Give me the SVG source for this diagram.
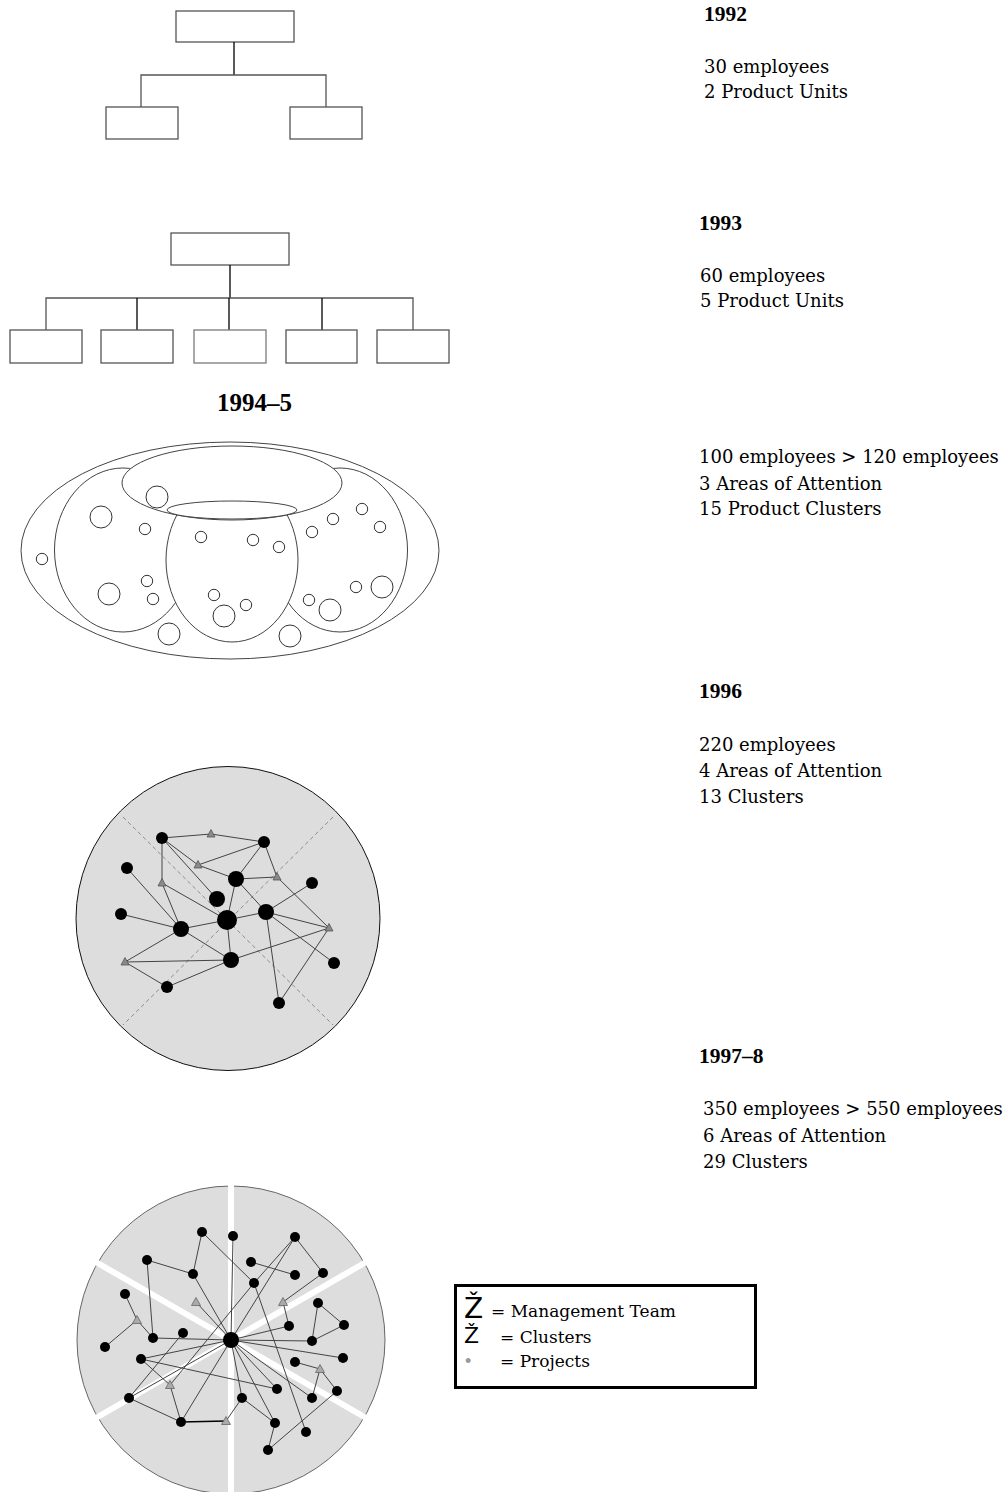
<svg xmlns="http://www.w3.org/2000/svg" xmlns:xlink="http://www.w3.org/1999/xlink" width="1006" height="1492" viewBox="0 0 1006 1492">
<style>
.box{fill:#fff;stroke:#555;stroke-width:1.3}
.org{stroke:#555;stroke-width:1.3;fill:none}
.orgk{stroke:#000;stroke-width:1.3;fill:none}
.el{fill:#fff;stroke:#444;stroke-width:1}
.sc{fill:none;stroke:#333;stroke-width:1}
.yr{font-family:"Liberation Serif",serif;font-weight:bold;font-size:21.5px;fill:#000}
.tx{font-family:"DejaVu Serif",serif;font-size:18px;fill:#000}
.lg{font-family:"DejaVu Serif",serif;font-size:17px;fill:#000}
.zz{font-family:"DejaVu Sans",sans-serif;fill:#000}
.ed{stroke:#444;stroke-width:1;fill:none}
.n{fill:#000}
.tri{fill:#8a8a8a;stroke:#555;stroke-width:0.8}
.tri2{fill:#aaa;stroke:#666;stroke-width:0.8}
</style>
<defs>
<path id="t96" d="M-4,3 L4,3 L0,-4.5Z"/>
<path id="t97" d="M-4.5,3.5 L4.5,3.5 L0,-4.5Z"/>
</defs>

<g id="chart1992">
<rect class="box" x="176" y="11" width="118" height="31"/>
<line class="orgk" x1="234" y1="42" x2="234" y2="75"/>
<path class="org" d="M141,108 V75 H326 V108"/>
<rect class="box" x="106" y="107" width="72" height="32"/>
<rect class="box" x="290" y="107" width="72" height="32"/>
</g>

<g id="chart1993">
<rect class="box" x="171" y="233" width="118" height="32"/>
<line class="orgk" x1="230" y1="265" x2="230" y2="298"/>
<path class="org" d="M46,330 V298 H413 V330"/>
<line class="orgk" x1="137" y1="298" x2="137" y2="330"/>
<line class="orgk" x1="229" y1="298" x2="229" y2="330"/>
<line class="orgk" x1="322" y1="298" x2="322" y2="330"/>
<rect class="box" x="10" y="330" width="72" height="33"/>
<rect class="box" x="101" y="330" width="72" height="33"/>
<rect class="box" x="194" y="330" width="72" height="33" style="stroke:#7a7a7a"/>
<rect class="box" x="286" y="330" width="71" height="33"/>
<rect class="box" x="377" y="330" width="72" height="33"/>
</g>

<text class="yr" x="217" y="411" style="font-size:25px">1994–5</text>

<g id="clusters1994">
<ellipse class="el" cx="230" cy="550.5" rx="209" ry="108.5"/>
<ellipse class="el" cx="123" cy="550" rx="68.5" ry="82"/>
<ellipse class="el" cx="340" cy="550" rx="67.5" ry="82"/>
<ellipse class="el" cx="232" cy="560" rx="66" ry="82"/>
<ellipse class="el" cx="232" cy="483" rx="110" ry="37"/>
<ellipse class="el" cx="232" cy="510" rx="65" ry="9"/>
<g>
<circle class="sc" cx="157" cy="497" r="11"/>
<circle class="sc" cx="101" cy="517" r="11"/>
<circle class="sc" cx="145" cy="529" r="5.7"/>
<circle class="sc" cx="42" cy="559" r="5.7"/>
<circle class="sc" cx="201" cy="537" r="5.7"/>
<circle class="sc" cx="253" cy="540" r="5.7"/>
<circle class="sc" cx="279" cy="547" r="5.7"/>
<circle class="sc" cx="312" cy="532" r="5.7"/>
<circle class="sc" cx="333" cy="519" r="5.7"/>
<circle class="sc" cx="362" cy="509" r="5.7"/>
<circle class="sc" cx="380" cy="527" r="5.7"/>
<circle class="sc" cx="147" cy="581" r="5.7"/>
<circle class="sc" cx="153" cy="599" r="5.7"/>
<circle class="sc" cx="109" cy="594" r="11"/>
<circle class="sc" cx="214" cy="595" r="5.7"/>
<circle class="sc" cx="246" cy="605" r="5.7"/>
<circle class="sc" cx="224" cy="616" r="11"/>
<circle class="sc" cx="169" cy="634" r="11"/>
<circle class="sc" cx="290" cy="636" r="11"/>
<circle class="sc" cx="309" cy="600" r="5.7"/>
<circle class="sc" cx="330" cy="610" r="11"/>
<circle class="sc" cx="356" cy="587" r="5.7"/>
<circle class="sc" cx="382" cy="587" r="11"/>
</g>
</g>

<g id="network1996">
<circle cx="228" cy="918.5" r="152" fill="#dddddd" stroke="#111" stroke-width="1"/>
<g stroke="#777" stroke-width="0.8" stroke-dasharray="4,3">
<line x1="123" y1="817" x2="333" y2="1025"/>
<line x1="333" y1="817" x2="123" y2="1025"/>
</g>
<g id="connectors1996" class="ed">
<path d="M162,838 L211,834 L264,842"/>
<path d="M162,838 L162,883"/>
<path d="M162,838 L198,865"/>
<path d="M162,838 L217,899"/>
<path d="M264,842 L198,865"/>
<path d="M198,865 L236,879"/>
<path d="M264,842 L236,879"/>
<path d="M264,842 L277,877"/>
<path d="M236,879 L277,877"/>
<path d="M277,877 L329,928"/>
<path d="M236,879 L266,912"/>
<path d="M236,879 L227,920"/>
<path d="M162,883 L227,920"/>
<path d="M162,883 L181,929"/>
<path d="M127,868 L181,929"/>
<path d="M121,914 L181,929"/>
<path d="M181,929 L227,920"/>
<path d="M181,929 L231,960"/>
<path d="M181,929 L125,962"/>
<path d="M125,962 L231,960"/>
<path d="M125,962 L167,987"/>
<path d="M167,987 L231,960"/>
<path d="M227,920 L231,960"/>
<path d="M227,920 L266,912"/>
<path d="M266,912 L312,883"/>
<path d="M266,912 L329,928"/>
<path d="M266,912 L334,963"/>
<path d="M266,912 L279,1003"/>
<path d="M279,1003 L329,928"/>
<path d="M231,960 L329,928"/>
</g>
<g class="n">
<circle cx="162" cy="838" r="6"/>
<circle cx="264" cy="842" r="6"/>
<circle cx="127" cy="868" r="6"/>
<circle cx="236" cy="879" r="8"/>
<circle cx="312" cy="883" r="6"/>
<circle cx="217" cy="899" r="8"/>
<circle cx="121" cy="914" r="6"/>
<circle cx="227" cy="920" r="10"/>
<circle cx="266" cy="912" r="8"/>
<circle cx="181" cy="929" r="8"/>
<circle cx="231" cy="960" r="8"/>
<circle cx="334" cy="963" r="6"/>
<circle cx="167" cy="987" r="6"/>
<circle cx="279" cy="1003" r="6"/>
</g>
<g class="tri">
<use xlink:href="#t96" x="211" y="834"/>
<use xlink:href="#t96" x="198" y="865"/>
<use xlink:href="#t96" x="277" y="877"/>
<use xlink:href="#t96" x="162" y="883"/>
<use xlink:href="#t96" x="329" y="928"/>
<use xlink:href="#t96" x="125" y="962"/>
</g>
</g>

<g id="network1997">
<circle cx="231" cy="1340" r="154" fill="#dddddd" stroke="#666" stroke-width="1"/>
<g stroke="#fff" stroke-width="6">
<line x1="231" y1="1180" x2="231" y2="1500"/>
<line x1="231" y1="1340" x2="95" y2="1261.5"/>
<line x1="231" y1="1340" x2="367" y2="1261.5"/>
<line x1="231" y1="1340" x2="95" y2="1418.5"/>
<line x1="231" y1="1340" x2="367" y2="1418.5"/>
</g>
<g id="connectors1997" class="ed">
<path d="M202,1232 L193,1274"/>
<path d="M202,1232 L254,1283"/>
<path d="M147,1260 L193,1274"/>
<path d="M147,1260 L153,1338 L231,1340"/>
<path d="M251,1262 L295,1275"/>
<path d="M295,1237 L323,1273 L283,1302 L289,1326 L231,1340"/>
<path d="M318,1303 L344,1325 L312,1341 Z"/>
<path d="M312,1341 L231,1340"/>
<path d="M125,1294 L137,1320 L105,1347"/>
<path d="M137,1320 L153,1338"/>
<path d="M196,1302 L231,1340"/>
<path d="M193,1274 L231,1340"/>
<path d="M233,1236 L231,1340"/>
<path d="M295,1237 L231,1340"/>
<path d="M295,1237 L254,1283 L170,1385"/>
<path d="M254,1283 L306,1432"/>
<path d="M183,1333 L129,1398"/>
<path d="M129,1398 L231,1340"/>
<path d="M141,1359 L231,1340"/>
<path d="M141,1359 L277,1389"/>
<path d="M141,1359 L170,1385 L181,1422"/>
<path d="M129,1398 L181,1422"/>
<path d="M181,1422 L226,1421" stroke="#000" stroke-width="1.3"/>
<path d="M226,1421 L242,1398 L231,1340"/>
<path d="M242,1398 L275,1423 L268,1450 L337,1391"/>
<path d="M181,1422 L231,1340"/>
<path d="M231,1340 L277,1389"/>
<path d="M231,1340 L275,1423"/>
<path d="M231,1340 L312,1398"/>
<path d="M231,1340 L343,1358"/>
<path d="M295,1362 L320,1369 L312,1398"/>
<path d="M320,1369 L337,1391"/>
</g>
<g class="n">
<circle cx="202" cy="1232" r="5"/>
<circle cx="233" cy="1236" r="5"/>
<circle cx="295" cy="1237" r="5"/>
<circle cx="147" cy="1260" r="5"/>
<circle cx="251" cy="1262" r="5"/>
<circle cx="193" cy="1274" r="5"/>
<circle cx="295" cy="1275" r="5"/>
<circle cx="323" cy="1273" r="5"/>
<circle cx="254" cy="1283" r="5"/>
<circle cx="125" cy="1294" r="5"/>
<circle cx="318" cy="1303" r="5"/>
<circle cx="289" cy="1326" r="5"/>
<circle cx="344" cy="1325" r="5"/>
<circle cx="183" cy="1333" r="5"/>
<circle cx="153" cy="1338" r="5"/>
<circle cx="105" cy="1347" r="5"/>
<circle cx="231" cy="1340" r="8"/>
<circle cx="312" cy="1341" r="5"/>
<circle cx="141" cy="1359" r="5"/>
<circle cx="343" cy="1358" r="5"/>
<circle cx="295" cy="1362" r="5"/>
<circle cx="277" cy="1389" r="5"/>
<circle cx="129" cy="1398" r="5"/>
<circle cx="242" cy="1398" r="5"/>
<circle cx="312" cy="1398" r="5"/>
<circle cx="337" cy="1391" r="5"/>
<circle cx="181" cy="1422" r="5"/>
<circle cx="275" cy="1423" r="5"/>
<circle cx="306" cy="1432" r="5"/>
<circle cx="268" cy="1450" r="5"/>
</g>
<g class="tri2">
<use xlink:href="#t97" x="196" y="1302"/>
<use xlink:href="#t97" x="283" y="1302"/>
<use xlink:href="#t97" x="137" y="1320"/>
<use xlink:href="#t97" x="320" y="1369"/>
<use xlink:href="#t97" x="170" y="1385"/>
<use xlink:href="#t97" x="226" y="1421"/>
</g>
</g>

<g id="legend">
<rect x="455.5" y="1285.5" width="300" height="102" fill="#fff" stroke="#000" stroke-width="3"/>
<text class="zz" x="464" y="1318" style="font-size:28px">Ž</text>
<text class="lg" x="491" y="1317">= Management Team</text>
<text class="zz" x="464" y="1343" style="font-size:22px">Ž</text>
<text class="lg" x="500" y="1343">= Clusters</text>
<text x="465" y="1367" style="font-family:'Liberation Sans',sans-serif;font-size:18px;fill:#999">•</text>
<text class="lg" x="500" y="1367">= Projects</text>
</g>

<g id="labels">
<text class="yr" x="704" y="21">1992</text>
<text class="tx" x="704" y="73">30 employees</text>
<text class="tx" x="704" y="98">2 Product Units</text>
<text class="yr" x="699" y="230">1993</text>
<text class="tx" x="700" y="282">60 employees</text>
<text class="tx" x="700" y="307">5 Product Units</text>
<text class="tx" x="699" y="463">100 employees &gt; 120 employees</text>
<text class="tx" x="699" y="490">3 Areas of Attention</text>
<text class="tx" x="699" y="515">15 Product Clusters</text>
<text class="yr" x="699" y="698">1996</text>
<text class="tx" x="699" y="751">220 employees</text>
<text class="tx" x="699" y="777">4 Areas of Attention</text>
<text class="tx" x="699" y="803">13 Clusters</text>
<text class="yr" x="699" y="1063">1997–8</text>
<text class="tx" x="703" y="1115">350 employees &gt; 550 employees</text>
<text class="tx" x="703" y="1142">6 Areas of Attention</text>
<text class="tx" x="703" y="1168">29 Clusters</text>
</g>
</svg>
